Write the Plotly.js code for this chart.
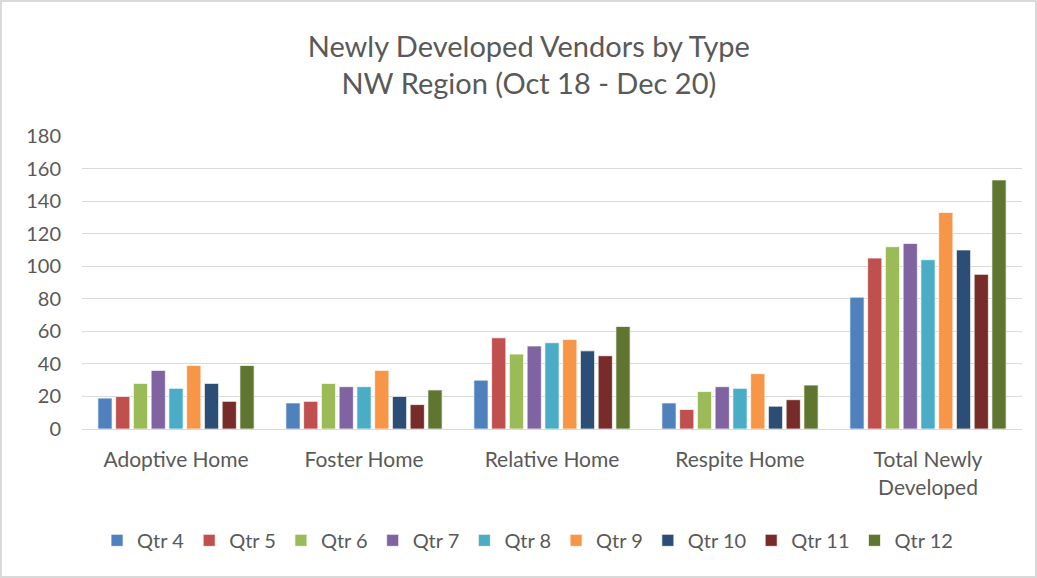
<!DOCTYPE html>
<html><head><meta charset="utf-8">
<script src="https://cdn.plot.ly/plotly-3.0.1.min.js"></script>
<style>html,body{margin:0;padding:0;background:#fff}
#chart{width:1033px;height:574px;border:2px solid #d9d9d9;}</style>
</head><body><div id="chart"></div>
<script>
const categories = ["Adoptive Home","Foster Home","Relative Home","Respite Home","Total Newly<br>Developed"];
const seriesNames = ["Qtr 4","Qtr 5","Qtr 6","Qtr 7","Qtr 8","Qtr 9","Qtr 10","Qtr 11","Qtr 12"];
const qtr4  = [19, 16, 30, 16, 81];
const qtr5  = [20, 17, 56, 12, 105];
const qtr6  = [28, 28, 46, 23, 112];
const qtr7  = [36, 26, 51, 26, 114];
const qtr8  = [25, 26, 53, 25, 104];
const qtr9  = [39, 36, 55, 34, 133];
const qtr10 = [28, 20, 48, 14, 110];
const qtr11 = [17, 15, 45, 18, 95];
const qtr12 = [39, 24, 63, 27, 153];
const seriesValues = [qtr4,qtr5,qtr6,qtr7,qtr8,qtr9,qtr10,qtr11,qtr12];
const colors = ["#4F81BD","#C0504D","#9BBB59","#8064A2","#4BACC6","#F79646","#2C4D75","#772C2A","#5F7530"];
const yTicks = [0,20,40,60,80,100,120,140,160,180];

const FONT = "Lato, 'Open Sans', sans-serif";
const traces = seriesNames.map((n,i)=>({
  type:'bar', name:n, x:categories, y:seriesValues[i],
  marker:{color:colors[i], line:{color:'rgba(255,255,255,0.7)', width:1}},
  hoverinfo:'y'
}));
const layout = {
  width:1033, height:574,
  margin:{l:80, r:13, t:134, b:147},
  paper_bgcolor:'#fff', plot_bgcolor:'#fff',
  font:{family:FONT, color:'#595959', size:19},
  title:{text:"Newly Developed Vendors by Type<br>NW Region (Oct 18 - Dec 20)",
    font:{family:FONT, size:29, color:'#595959'}, x:0.51, xanchor:'center',
    y:0.905, yanchor:'middle', yref:'container'},
  barmode:'group', bargap:0.15, bargroupgap:0.2,
  xaxis:{tickfont:{size:21, color:'#595959'}, showline:true, linecolor:'#d9d9d9', linewidth:1, ticks:'',
    ticklabelstandoff:12, fixedrange:true},
  yaxis:{range:[0,180], tickvals:yTicks, ticktext:yTicks.map(String), showgrid:true, gridcolor:'#d9d9d9', gridwidth:1,
    zeroline:false, showline:false, tickfont:{size:20, color:'#595959'}, ticklabelstandoff:20, fixedrange:true},
  legend:{orientation:'h', x:0.474, xanchor:'center', y:-0.38, yanchor:'middle',
    font:{size:20, color:'#595959'}, itemwidth:30, tracegroupgap:0, itemclick:false},
  showlegend:true
};
Plotly.newPlot('chart', traces, layout, {displayModeBar:false, staticPlot:true});
</script></body></html>
